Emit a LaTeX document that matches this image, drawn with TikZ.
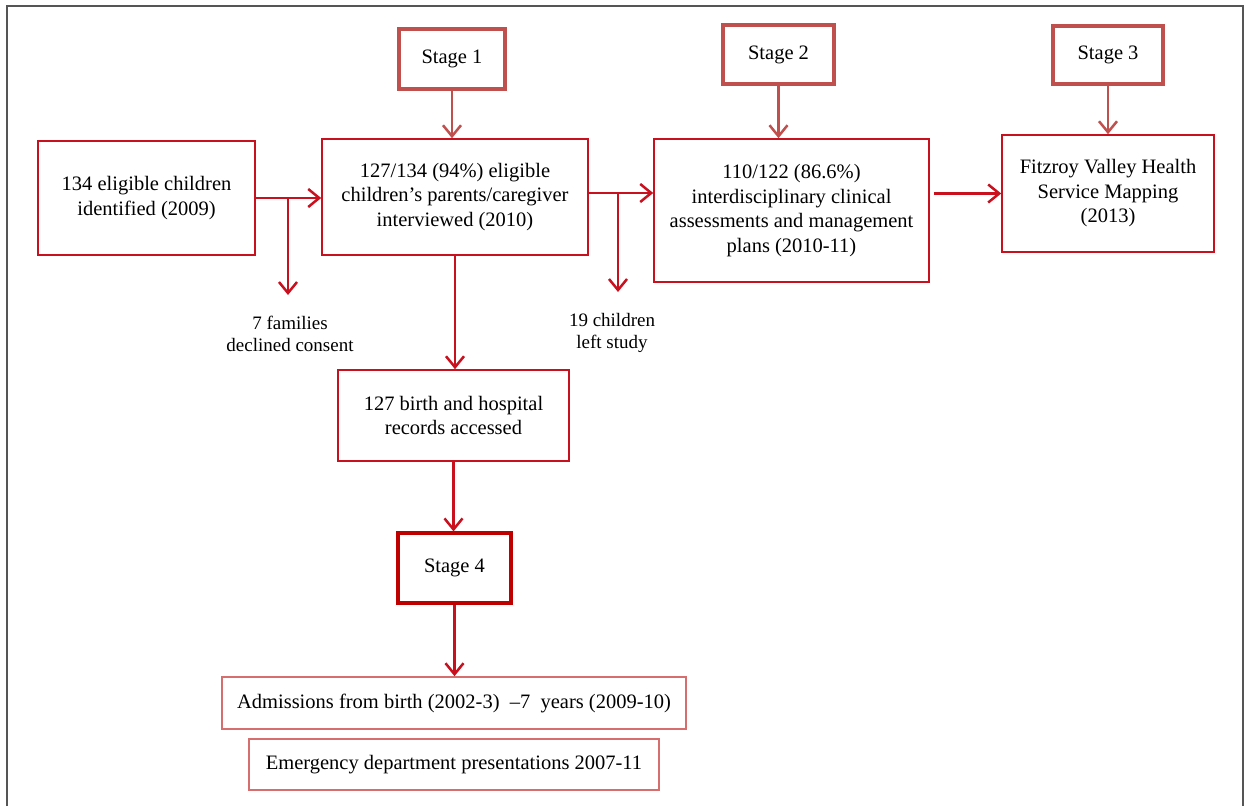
\documentclass[tikz,border=0pt]{standalone}
\usepackage{fontspec}
\setmainfont{Liberation Serif}
\usepackage{tikz}
\usetikzlibrary{arrows.meta,calc,positioning}
\definecolor{stagered}{RGB}{192,80,77}
\definecolor{mainred}{RGB}{200,16,30}
\definecolor{darkred}{RGB}{190,0,0}
\definecolor{softred}{RGB}{215,110,110}
\definecolor{framegray}{RGB}{85,85,85}

\begin{document}
\begin{tikzpicture}[x=1pt, y=-1pt,
  every node/.style={font=\fontsize{20.5}{24.5}\selectfont, align=center, inner sep=0pt},
  mainbox/.style={draw=mainred, line width=1.6pt, fill=white},
  stagebox/.style={draw=stagered, line width=3.2pt, fill=white},
  listbox/.style={draw=softred, line width=1.6pt, fill=white},
  flow/.style={draw=mainred, line width=2.5pt, -{Straight Barb[length=11pt,width=18pt]}},
  stageflow/.style={flow, draw=stagered},
  note/.style={font=\fontsize{19}{22}\selectfont}
]
\useasboundingbox (0,0) rectangle (1244,806);
\draw[framegray, line width=2pt] (7,806) -- (7,6) -- (1243,6) -- (1243,806);

% stages
\node[stagebox, minimum width=106pt, minimum height=60pt] (stageA) at (452,59) {Stage 1};
\node[stagebox, minimum width=111pt, minimum height=59pt] (stageB) at (778.5,54.5) {Stage 2};
\node[stagebox, minimum width=110pt, minimum height=58pt] (stageC) at (1108,55) {Stage 3};
\node[stagebox, draw=darkred, minimum width=113pt, minimum height=70pt] (stageD) at (454.5,568) {Stage 4};

% main boxes
\node[mainbox, minimum width=217pt, minimum height=114pt] (ident) at (146.5,198)
  {134 eligible children\\identified (2009)};
\node[mainbox, minimum width=266pt, minimum height=116pt] (interv) at (455,197)
  {127/134 (94\%) eligible\\children’s parents/caregiver\\interviewed (2010)};
\node[mainbox, minimum width=275pt, minimum height=143pt] (assess) at (791.5,210.5)
  {110/122 (86.6\%)\\interdisciplinary clinical\\assessments and management\\plans (2010-11)};
\node[mainbox, minimum width=212pt, minimum height=117pt] (mapping) at (1108,193.5)
  {Fitzroy Valley Health\\Service Mapping\\(2013)};
\node[mainbox, minimum width=231pt, minimum height=91pt] (records) at (453.5,415.5)
  {127 birth and hospital\\records accessed};
\node[listbox, minimum width=464pt, minimum height=52pt] (admiss) at (454,703)
  {Admissions from birth (2002-3)~ --7~ years (2009-10)};
\node[listbox, minimum width=410pt, minimum height=51pt] (emerg) at (454,764.5)
  {Emergency department presentations 2007-11};

% drop-outs
\node[note] (declined) at (290,334) {7 families\\declined consent};
\node[note] (leftstudy) at (612,333) {19 children\\left study};
\coordinate (dA) at (288,199);
\coordinate (dAend) at (288,295);
\coordinate (dB) at (618,193);
\coordinate (dBend) at (618,292);

\draw[stageflow] (stageA.south) -- (stageA.south |- interv.north);
\draw[stageflow] (stageB.south) -- (stageB.south |- assess.north);
\draw[stageflow] (stageC.south) -- (stageC.south |- mapping.north);

\draw[flow] (ident.east) -- (ident.east -| interv.west);
\draw[flow] (dA) -- (dAend);
\draw[flow] ([yshift=4pt]interv.east) -- ([yshift=4pt]interv.east -| assess.west);
\draw[flow] (dB) -- (dBend);
\draw[flow] ([xshift=4pt]mapping.west -| assess.east) -- (mapping.west);
\draw[flow] (interv.south) -- (interv.south |- records.north);
\draw[flow] (records.south) -- (records.south |- stageD.north);
\draw[flow] (stageD.south) -- (stageD.south |- admiss.north);
\end{tikzpicture}
\end{document}
